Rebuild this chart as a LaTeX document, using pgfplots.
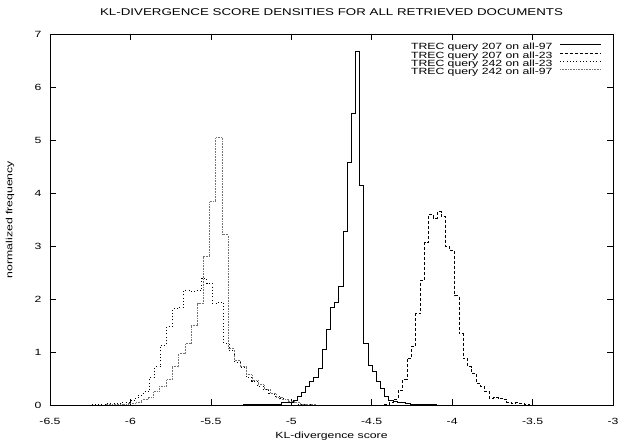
\documentclass[border=0pt]{standalone}
\usepackage{fontspec}
\setmainfont{Liberation Sans}[FakeStretch=1.36]
\usepackage{pgfplots}
\pgfplotsset{compat=1.18}

\begin{document}
\begin{tikzpicture}[font=\fontsize{9}{10}\selectfont]
\begin{axis}[
  scale only axis, width=563pt, height=371pt,
  xmin=-6.5, xmax=-3, ymin=0, ymax=7,
  xtick={-6.5,-6,-5.5,-5,-4.5,-4,-3.5,-3},
  xticklabels={-6.5,-6,-5.5,-5,-4.5,-4,-3.5,-3},
  ytick={0,1,2,3,4,5,6,7},
  yticklabels={0,1,2,3,4,5,6,7},
  tick align=inside, tick pos=both,
  major tick length=6pt,
  axis line style={line width=0.8pt},
  every tick/.style={black, line width=0.6pt},
  xticklabel style={anchor=base, yshift=-20pt},
  yticklabel style={anchor=east, xshift=-5pt},
  title={KL-DIVERGENCE SCORE DENSITIES FOR ALL RETRIEVED DOCUMENTS},
  every axis title/.style={at={(axis description cs:0.5,1)}, anchor=center, yshift=22pt,
    font=\fontsize{9.8}{10}\selectfont},
  xlabel={KL-divergence score},
  every axis x label/.style={at={(axis description cs:0.5,0)}, anchor=center, yshift=-31pt},
  ylabel={normalized frequency},
  every axis y label/.style={at={(axis description cs:0,0.5)}, rotate=90, anchor=center, yshift=40pt},
  legend style={draw=none, fill=none, at={(axis description cs:0.985,0.981)}, anchor=north east,
    row sep=0pt, column sep=7pt,
    nodes={inner sep=0pt, text height=6.5pt, text depth=1.8pt}},
  legend cell align=right,
  legend plot pos=right,
  legend image code/.code={\draw[#1] (0pt,2.5pt) -- (41pt,2.5pt);},
  no markers,
]
% TREC query 207 on all-97
\addplot[const plot, black, line width=0.8pt] coordinates {
(-5.40,0) (-5.30,0.01) (-5.15,0.02) (-5.06,0.04) (-5.009,0.05) (-4.989,0.08)
(-4.964,0.16) (-4.937,0.24) (-4.912,0.35) (-4.885,0.44) (-4.860,0.53) (-4.834,0.69)
(-4.809,1.04) (-4.781,1.43) (-4.757,1.85) (-4.730,1.93) (-4.705,2.23) (-4.678,3.27)
(-4.651,4.57) (-4.626,5.50) (-4.601,6.67) (-4.575,4.14) (-4.550,1.16) (-4.523,0.74)
(-4.498,0.63) (-4.471,0.44) (-4.446,0.32) (-4.419,0.16) (-4.394,0.09) (-4.368,0.06)
(-4.343,0.05) (-4.317,0.04) (-4.29,0.03) (-4.26,0.02) (-4.2,0.01) (-4.1,0)
};
% TREC query 207 on all-23
\addplot[const plot, black, line width=0.7pt, dash pattern=on 3pt off 2pt] coordinates {
(-4.45,0) (-4.42,0.02) (-4.39,0.05) (-4.363,0.10) (-4.336,0.28) (-4.309,0.48)
(-4.281,0.88) (-4.253,1.10) (-4.227,1.72) (-4.198,2.36) (-4.171,3.07) (-4.146,3.60)
(-4.119,3.53) (-4.094,3.65) (-4.067,3.55) (-4.040,2.99) (-4.016,2.92) (-3.984,2.06)
(-3.958,1.35) (-3.933,0.88) (-3.906,0.72) (-3.881,0.60) (-3.850,0.41) (-3.825,0.35)
(-3.798,0.25) (-3.771,0.13) (-3.742,0.15) (-3.715,0.13) (-3.688,0.10) (-3.660,0.05)
(-3.632,0.04) (-3.606,0.05) (-3.581,0.04) (-3.550,0.02) (-3.52,0)
};
% TREC query 242 on all-23
\addplot[const plot, black, line width=0.8pt, dash pattern=on 1pt off 2.3pt] coordinates {
(-6.30,0) (-6.25,0.01) (-6.15,0.03) (-6.06,0.05) (-6.003,0.08) (-5.975,0.12)
(-5.951,0.19) (-5.920,0.25) (-5.879,0.52) (-5.848,0.72) (-5.812,1.13) (-5.775,1.48)
(-5.738,1.82) (-5.703,1.84) (-5.668,2.16) (-5.630,2.14) (-5.595,2.16) (-5.558,2.39)
(-5.527,2.30) (-5.490,1.92) (-5.455,1.94) (-5.419,1.16) (-5.386,1.03) (-5.351,0.80)
(-5.316,0.70) (-5.281,0.52) (-5.246,0.45) (-5.211,0.36) (-5.176,0.29) (-5.141,0.22)
(-5.106,0.16) (-5.071,0.12) (-5.036,0.08) (-5.0,0.04) (-4.965,0.02) (-4.93,0.01) (-4.85,0)
};
% TREC query 242 on all-97
\addplot[const plot, black!55, line width=0.8pt, dash pattern=on 0.6pt off 1pt] coordinates {
(-6.25,0) (-6.15,0.01) (-6.05,0.02) (-6.01,0.03) (-5.97,0.04) (-5.931,0.10)
(-5.889,0.15) (-5.858,0.25) (-5.817,0.36) (-5.775,0.48) (-5.740,0.72) (-5.699,0.97)
(-5.661,1.16) (-5.624,1.51) (-5.583,1.91) (-5.548,2.80) (-5.506,3.84) (-5.469,5.05)
(-5.430,3.21) (-5.393,1.06) (-5.355,0.84) (-5.318,0.72) (-5.280,0.57) (-5.243,0.46)
(-5.205,0.38) (-5.168,0.30) (-5.130,0.22) (-5.093,0.15) (-5.055,0.10) (-5.018,0.06)
(-4.980,0.04) (-4.943,0.02) (-4.905,0.01) (-4.85,0)
};
\legend{TREC query 207 on all-97, TREC query 207 on all-23, TREC query 242 on all-23, TREC query 242 on all-97}
\end{axis}
\pgfresetboundingbox
\useasboundingbox (-50pt,-36pt) rectangle (569pt,405pt);
\end{tikzpicture}
\end{document}
